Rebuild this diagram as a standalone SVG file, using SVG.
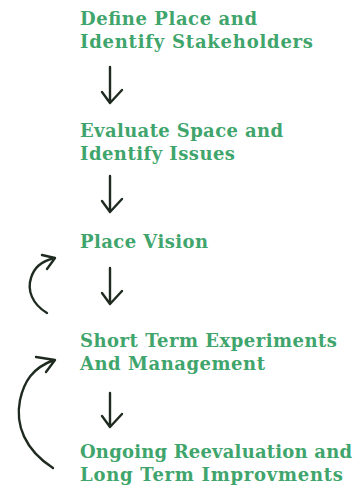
<svg xmlns="http://www.w3.org/2000/svg" width="359" height="486" viewBox="0 0 359 486">
<style>
.t{font-family:"DejaVu Serif","Liberation Serif",serif;font-weight:bold;font-size:18px;fill:#3fa56c}
.a{fill:none;stroke:#1f2b20;stroke-width:2.4;stroke-linecap:round;stroke-linejoin:round}
</style>
<rect width="359" height="486" fill="#ffffff"/>
<g id="n1"><text class="t" x="80" y="25" textLength="177" lengthAdjust="spacing">Define Place and</text><text class="t" x="80" y="48" textLength="233" lengthAdjust="spacing">Identify Stakeholders</text></g>
<g id="n2"><text class="t" x="80" y="137" textLength="203" lengthAdjust="spacing">Evaluate Space and</text><text class="t" x="80" y="160" textLength="155" lengthAdjust="spacing">Identify Issues</text></g>
<g id="n3"><text class="t" x="80" y="248" textLength="128" lengthAdjust="spacing">Place Vision</text></g>
<g id="n4"><text class="t" x="80" y="347" textLength="257" lengthAdjust="spacing">Short Term Experiments</text><text class="t" x="80" y="370" textLength="185" lengthAdjust="spacing">And Management</text></g>
<g id="n5"><text class="t" x="80" y="458" textLength="272" lengthAdjust="spacing">Ongoing Reevaluation and</text><text class="t" x="80" y="481" textLength="263" lengthAdjust="spacing">Long Term Improvments</text></g>
<g id="connectors">
<path class="a" d="M110 67 L110 102 M102 92 L110 103 L122 90"/>
<path class="a" d="M110 176 L110 211 M102 201 L110 212 L122 199"/>
<path class="a" d="M110 268 L110 303 M102 293 L110 304 L122 291"/>
<path class="a" d="M110 393 L110 426 M102 416 L110 427 L122 414"/>
<path class="a" d="M47 313 C32 304 27 290 31 278 C34 268 40 262 54 258 M42 255 L55 258 L47 269"/>
<path class="a" d="M53 468 C25 450 15 425 20 400 C24 382 32 368 54 360 M36 357 L55 360 L46 372"/>
</g>
</svg>
